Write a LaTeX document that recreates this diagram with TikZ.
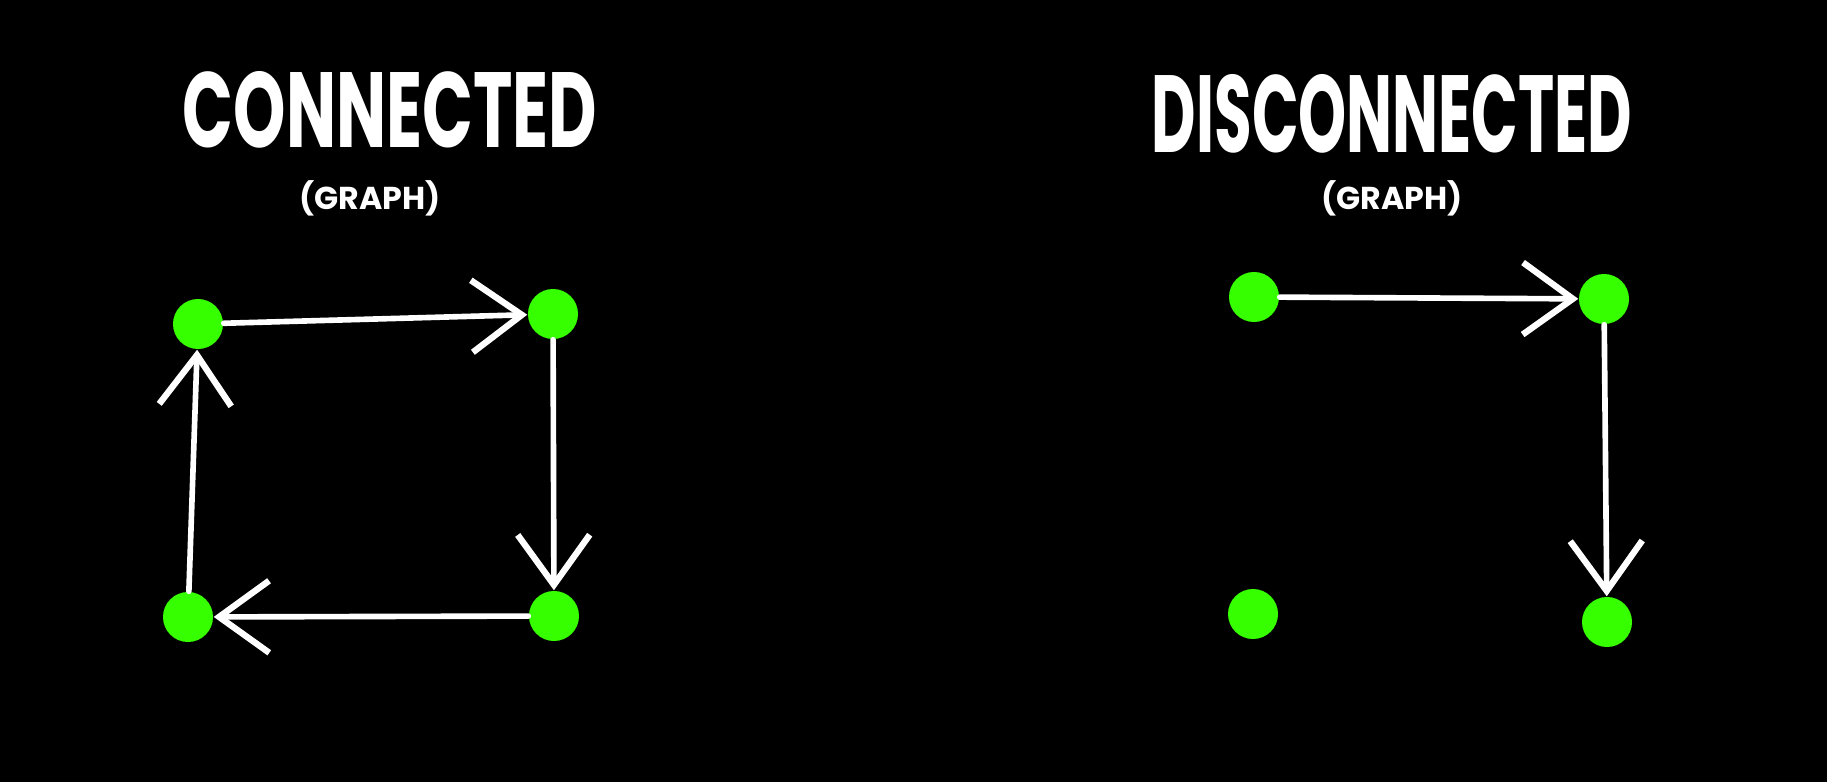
\documentclass[tikz,border=0pt]{standalone}
\usepackage{fontspec}
\usetikzlibrary{arrows.meta}
\newfontfamily\labelfont{Poppins}
\definecolor{nodegreen}{RGB}{54,255,0}
\tikzset{
	vertex/.style={circle, fill=nodegreen, minimum size=0.5cm, inner sep=0pt},
	edge/.style={draw=white, line width=1.6pt, line cap=round,
		-{Straight Barb[length=0.5cm, width=0.72cm, line width=1.8pt]}},
	title/.style={text=white, font=\labelfont\bfseries, inner sep=0pt},
	subtitle/.style={text=white, font=\labelfont\bfseries\fontsize{9pt}{11pt}\selectfont, inner sep=0pt}
}
\begin{document}
\begin{tikzpicture}[x=0.01cm, y=-0.01cm, line join=round, line cap=round]
	\fill[black] (0,0) rectangle (1827,782);
	\useasboundingbox (0,0) rectangle (1827,782);
	% titles
	\node[title] (tC) at (390,110) {\resizebox{4.14cm}{0.76cm}{CONNECTED}};
	\node[subtitle] (sC) at (370,198) {(GRAPH)};
	\node[title] (tD) at (1392,114) {\resizebox{4.8cm}{0.78cm}{DISCONNECTED}};
	\node[subtitle] (sD) at (1392,198) {(GRAPH)};
	% connected graph
	\node[vertex] (A) at (198,324) {};
	\node[vertex] (B) at (553,314) {};
	\node[vertex] (C) at (554,616) {};
	\node[vertex] (D) at (188,617) {};
	\draw[edge] (A) -- (B);
	\draw[edge] (B) -- (C);
	\draw[edge] (C) -- (D);
	\draw[edge] (D) -- (A);
	% disconnected graph
	\node[vertex] (P) at (1254,297) {};
	\node[vertex] (Q) at (1604,299) {};
	\node[vertex] (R) at (1607,622) {};
	\node[vertex] (S) at (1253,614) {};
	\draw[edge] (P) -- (Q);
	\draw[edge] (Q) -- (R);
\end{tikzpicture}
\end{document}
